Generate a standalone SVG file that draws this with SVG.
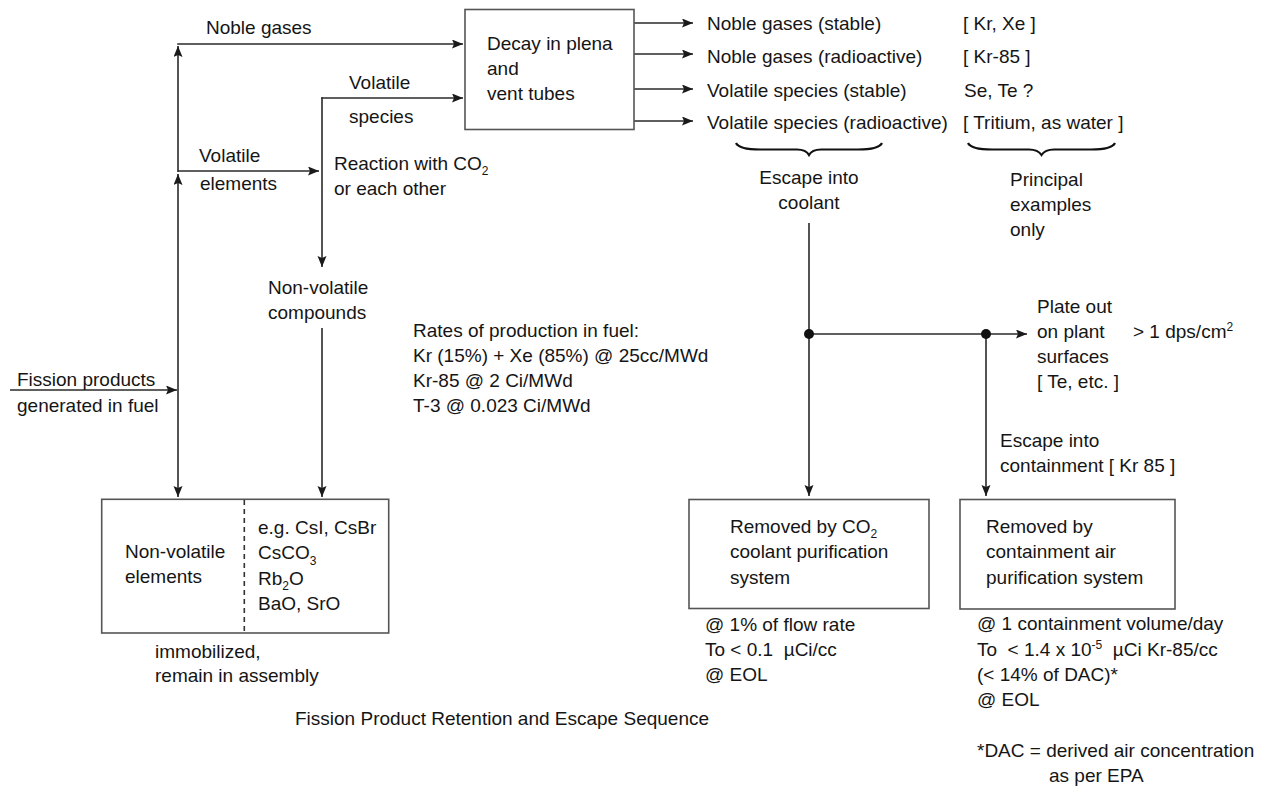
<svg xmlns="http://www.w3.org/2000/svg" width="1278" height="786" viewBox="0 0 1278 786">
<style>
text{font-family:"Liberation Sans",Arial,sans-serif;font-size:19px;fill:#151515}
.mid{text-anchor:middle}
.pre{white-space:pre}
.box{fill:#fff;stroke:#555;stroke-width:1.6}
.ln{fill:none;stroke:#2a2a2a;stroke-width:1.6}
.brace{fill:none;stroke:#111;stroke-width:2.2}
.sub{font-size:12px}
</style>
<defs>
<marker id="ah" markerUnits="userSpaceOnUse" markerWidth="12" markerHeight="10" refX="11" refY="4.5" orient="auto">
<path d="M0,0 L11,4.5 L0,9 L2,4.5 z" fill="#1a1a1a"/>
</marker>
</defs>
<rect width="1278" height="786" fill="#fff"/>

<g id="connectors">
<line class="ln" x1="10" y1="390" x2="177" y2="390" marker-end="url(#ah)"/>
<line class="ln" x1="178" y1="390" x2="178" y2="174" marker-end="url(#ah)"/>
<line class="ln" x1="178" y1="172" x2="178" y2="46" marker-end="url(#ah)"/>
<line class="ln" x1="178" y1="390" x2="178" y2="497" marker-end="url(#ah)"/>
<line class="ln" x1="177.2" y1="44" x2="463" y2="44" marker-end="url(#ah)"/>
<line class="ln" x1="178" y1="171" x2="319" y2="171" marker-end="url(#ah)"/>
<line class="ln" x1="321.2" y1="98" x2="463" y2="98" marker-end="url(#ah)"/>
<line class="ln" x1="322" y1="97.2" x2="322" y2="267" marker-end="url(#ah)"/>
<line class="ln" x1="322" y1="328" x2="322" y2="497" marker-end="url(#ah)"/>
<line class="ln" x1="634" y1="23" x2="693" y2="23" marker-end="url(#ah)"/>
<line class="ln" x1="634" y1="54" x2="693" y2="54" marker-end="url(#ah)"/>
<line class="ln" x1="634" y1="89" x2="693" y2="89" marker-end="url(#ah)"/>
<line class="ln" x1="634" y1="121" x2="693" y2="121" marker-end="url(#ah)"/>
<line class="ln" x1="809" y1="223" x2="809" y2="496" marker-end="url(#ah)"/>
<line class="ln" x1="809" y1="334" x2="1027" y2="334" marker-end="url(#ah)"/>
<line class="ln" x1="986" y1="334" x2="986" y2="496" marker-end="url(#ah)"/>
<circle cx="809" cy="334" r="5" fill="#111"/>
<circle cx="986" cy="334" r="5" fill="#111"/>
</g>

<g id="labels-left">
<text x="206" y="34">Noble gases</text>
<text x="349" y="89">Volatile</text>
<text x="349" y="123">species</text>
<text x="199" y="162">Volatile</text>
<text x="200" y="190">elements</text>
<text x="334" y="170">Reaction with CO<tspan class="sub" dy="5">2</tspan></text>
<text x="334" y="195">or each other</text>
<text x="268" y="294">Non-volatile</text>
<text x="268" y="319">compounds</text>
<text x="17" y="386">Fission products</text>
<text x="17" y="412">generated in fuel</text>
</g>

<g id="node-decay">
<rect class="box" x="465" y="9.5" width="169" height="120"/>
<text x="487" y="50">Decay in plena</text>
<text x="487" y="75">and</text>
<text x="487" y="100">vent tubes</text>
</g>

<g id="node-outputs">
<text x="707" y="30">Noble gases (stable)</text>
<text x="707" y="63">Noble gases (radioactive)</text>
<text x="707" y="97">Volatile species (stable)</text>
<text x="707" y="129">Volatile species (radioactive)</text>
<text x="963" y="30">[ Kr, Xe ]</text>
<text x="963" y="63">[ Kr-85 ]</text>
<text x="964" y="97">Se, Te ?</text>
<text x="963" y="129">[ Tritium, as water ]</text>
<path class="brace" d="M736,143 Q739,149.5 760,149.5 L797,149.5 Q806,149.5 809,155 Q812,149.5 821,149.5 L858,149.5 Q879,149.5 882,143"/>
<path class="brace" d="M968,143 Q971,149.5 992,149.5 L1029,149.5 Q1038,149.5 1041.5,155 Q1045,149.5 1054,149.5 L1091,149.5 Q1112,149.5 1115,143"/>
<text class="mid" x="809" y="184">Escape into</text>
<text class="mid" x="809" y="209">coolant</text>
<text x="1010" y="186">Principal</text>
<text x="1010" y="211">examples</text>
<text x="1010" y="236">only</text>
</g>

<g id="node-rates">
<text x="413" y="337">Rates of production in fuel:</text>
<text x="413" y="362">Kr (15%) + Xe (85%) @ 25cc/MWd</text>
<text x="413" y="387">Kr-85 @ 2 Ci/MWd</text>
<text x="413" y="412">T-3 @ 0.023 Ci/MWd</text>
</g>

<g id="node-plateout">
<text x="1037" y="313">Plate out</text>
<text x="1037" y="338">on plant</text>
<text x="1133" y="338">&gt; 1 dps/cm<tspan class="sub" dy="-7">2</tspan></text>
<text x="1037" y="363">surfaces</text>
<text x="1037" y="388">[ Te, etc. ]</text>
<text x="1000" y="447">Escape into</text>
<text x="1000" y="472">containment [ Kr 85 ]</text>
</g>

<g id="node-nonvolatile">
<rect class="box" x="101.7" y="499.3" width="287" height="133.7"/>
<line x1="244.3" y1="500" x2="244.3" y2="632" stroke="#333" stroke-width="1.6" stroke-dasharray="5,4"/>
<text x="125" y="558">Non-volatile</text>
<text x="125" y="583">elements</text>
<text x="258" y="534">e.g. CsI, CsBr</text>
<text x="258" y="559">CsCO<tspan class="sub" dy="6">3</tspan></text>
<text x="258" y="585">Rb<tspan class="sub" dy="5">2</tspan><tspan dy="-5">O</tspan></text>
<text x="258" y="610">BaO, SrO</text>
<text x="155" y="658">immobilized,</text>
<text x="155" y="682">remain in assembly</text>
</g>

<g id="node-co2">
<rect class="box" x="689" y="499.5" width="240" height="109"/>
<text x="730" y="533">Removed by CO<tspan class="sub" dy="5">2</tspan></text>
<text x="730" y="558">coolant purification</text>
<text x="730" y="584">system</text>
<text x="705" y="631">@ 1% of flow rate</text>
<text class="pre" x="705" y="656">To &lt; 0.1  µCi/cc</text>
<text x="705" y="681">@ EOL</text>
</g>

<g id="node-containment">
<rect class="box" x="960" y="499.5" width="215" height="109.5"/>
<text x="986" y="533">Removed by</text>
<text x="986" y="558">containment air</text>
<text x="986" y="584">purification system</text>
<text class="pre" x="977" y="630">@ 1 containment volume/day</text>
<text class="pre" x="977" y="656">To  &lt; 1.4 x 10<tspan class="sub" dy="-7">-5</tspan><tspan dy="7">  µCi Kr-85/cc</tspan></text>
<text x="977" y="681">(&lt; 14% of DAC)*</text>
<text x="977" y="706">@ EOL</text>
<text x="977" y="757">*DAC = derived air concentration</text>
<text x="1049" y="782">as per EPA</text>
</g>

<g id="caption">
<text x="295" y="725">Fission Product Retention and Escape Sequence</text>
</g>
</svg>
